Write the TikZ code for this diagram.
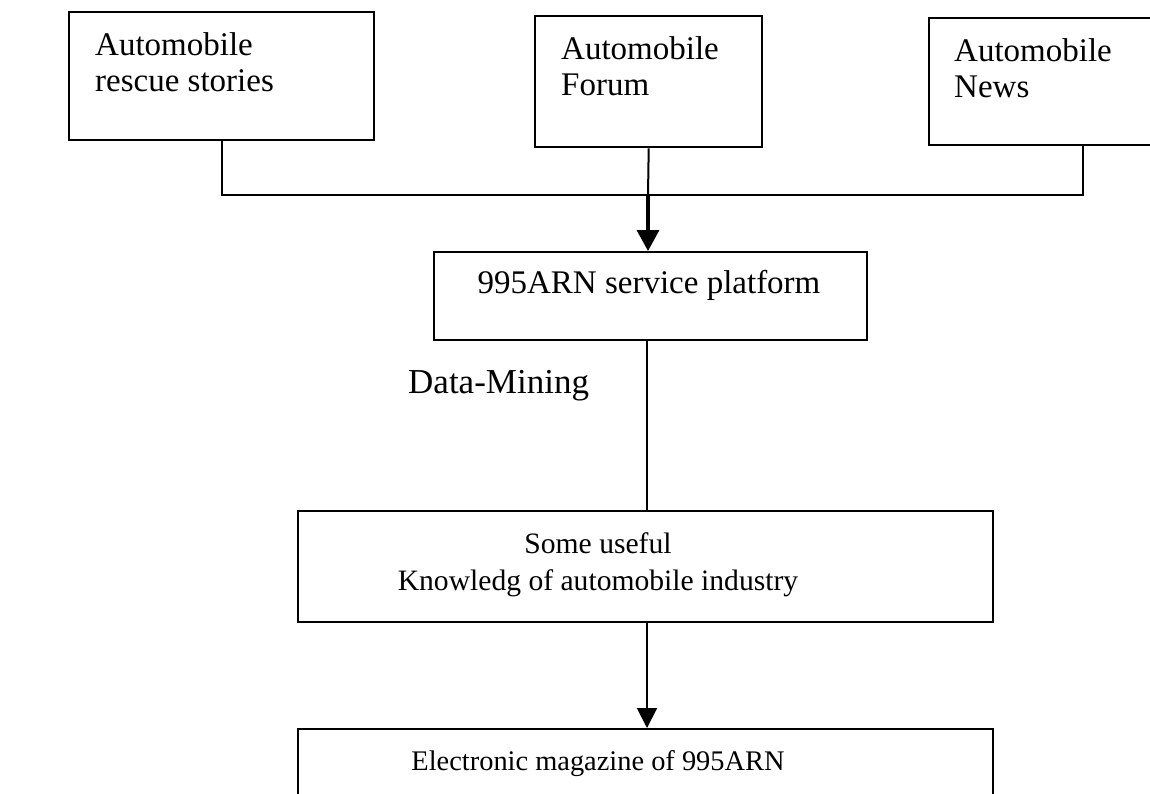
\documentclass[tikz,border=0pt]{standalone}
\usepackage{fontspec}
\setmainfont{Liberation Serif}
\usetikzlibrary{arrows.meta}
\begin{document}
\begin{tikzpicture}[x=1pt,y=-1pt,
  box/.style={draw, line width=2.4pt, inner sep=0pt, anchor=north west},
  conn/.style={line width=2pt},
  arr/.style={line width=2pt, -{Triangle[width=20pt,length=20pt]}},
  txt/.style={font=\fontsize{33}{36}\selectfont, inner sep=0pt, anchor=base west, align=left},
  ctxt/.style={inner sep=0pt, anchor=base, align=center},
]
\useasboundingbox (0,0) rectangle (1150,793);
% boxes
\node[box, minimum width=305pt, minimum height=128pt] (b1) at (68,11) {};
\node[box, minimum width=227pt, minimum height=131pt] (b2) at (534,15) {};
\node[box, minimum width=308pt, minimum height=127pt] (b3) at (928,17) {};
\node[box, minimum width=433pt, minimum height=88pt] (plat) at (433,251) {};
\node[box, minimum width=695pt, minimum height=111pt] (b4) at (297,510) {};
\node[box, minimum width=695pt, minimum height=110pt] (b5) at (297,728) {};
% texts (base anchor = last line's baseline)
\node[txt] (t1) at (95,91) {Automobile\\rescue stories};
\node[txt] (t2) at (561,95) {Automobile\\Forum};
\node[txt] (t3) at (954,97) {Automobile\\News};
\node[ctxt, font=\fontsize{33}{37}\selectfont] (tp) at (649,293) {995ARN service platform};
\node[ctxt, font=\fontsize{29.6}{37}\selectfont] (t4) at (598,590) {Some useful\\Knowledg of automobile industry};
\node[ctxt, font=\fontsize{28.4}{37}\selectfont] (t5) at (598,770) {Electronic magazine of 995ARN};
\node[txt, font=\fontsize{35}{38}\selectfont] (dm) at (408,393) {Data-Mining};
% connectors
\coordinate (j) at (648,195);
\draw[conn] (b1.south) |- (j);
\draw[conn] (b3.south) |- (j);
\draw[conn] (b2.south) -- (j);
\draw[line width=3.5pt, -{Triangle[width=22pt,length=21pt]}] (j) -- (j |- plat.north);
\coordinate (k) at (647,339);
\draw[conn] (k) -- (k |- b4.north);
\coordinate (m) at (647,621);
\draw[arr] (m) -- (m |- b5.north);
\end{tikzpicture}
\end{document}
